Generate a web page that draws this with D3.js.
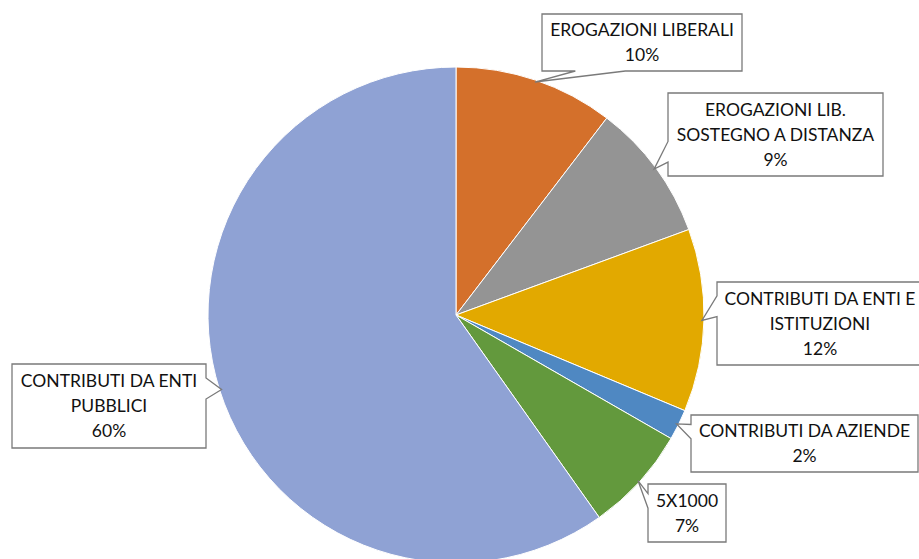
<!DOCTYPE html>
<html>
<head>
<meta charset="utf-8">
<script src="https://cdn.jsdelivr.net/npm/d3@7"></script>
<style>
  body { margin: 0; background: #fff; }
  svg { display: block; }
  text { font-family: Lato, "Noto Sans", sans-serif; fill: #111; }
</style>
</head>
<body>
<svg id="chart" width="919" height="559"></svg>
<script>
// Chart data (slices go clockwise from 12 o'clock)
var categories = [
  "EROGAZIONI LIBERALI",
  "EROGAZIONI LIB.\nSOSTEGNO A DISTANZA",
  "CONTRIBUTI DA ENTI E\nISTITUZIONI",
  "CONTRIBUTI DA AZIENDE",
  "5X1000",
  "CONTRIBUTI DA ENTI\nPUBBLICI"
];
var values = [10.4, 9.0, 11.9, 2.0, 6.9, 59.8];
var colors = ["#d4702b", "#949494", "#e2a900", "#4f88c2", "#63993d", "#8fa2d4"];

// Callout boxes: x, y, width, height
var boxes = [
  [542, 14, 200, 57],
  [668, 93, 215, 83],
  [717, 282, 206, 83],
  [691, 415, 227, 57],
  [648, 484, 78, 58],
  [12, 364, 194, 84]
];

var cx = 456, cy = 315, radius = 248;
var lineH = 25;

var svg = d3.select("#chart");
var g = svg.append("g").attr("transform", "translate(" + cx + "," + cy + ")");

var pie = d3.pie().sort(null).value(function(d) { return d; });
var arcs = pie(values);
var total = d3.sum(values);
var fmt = d3.format(".0%");

var arc = d3.arc().innerRadius(0).outerRadius(radius);
var tipArc = d3.arc().innerRadius(radius - 2).outerRadius(radius - 2);

var color = d3.scaleOrdinal().domain(d3.range(values.length)).range(colors);

g.selectAll("path.slice")
  .data(arcs)
  .enter().append("path")
  .attr("class", "slice")
  .attr("d", arc)
  .attr("fill", function(d, i) { return color(i); })
  .attr("stroke", "#fff")
  .attr("stroke-width", 1);

// Wedge callout outline, base placed like Office's wedgeRectCallout
function callout(b, tx, ty) {
  var x = b[0], y = b[1], w = b[2], h = b[3];
  var dx = tx - (x + w / 2), dy = ty - (y + h / 2);
  var pts = [];
  var horiz = Math.abs(dx) / w > Math.abs(dy) / h;
  var ya = dy < 0 ? [y + h * 2 / 12, y + h * 5 / 12] : [y + h * 7 / 12, y + h * 10 / 12];
  var xa = dx < 0 ? [x + w * 2 / 12, x + w * 5 / 12] : [x + w * 7 / 12, x + w * 10 / 12];
  pts.push([x, y]);
  if (!horiz && dy < 0) { pts.push([xa[0], y], [tx, ty], [xa[1], y]); }
  pts.push([x + w, y]);
  if (horiz && dx > 0) { pts.push([x + w, ya[0]], [tx, ty], [x + w, ya[1]]); }
  pts.push([x + w, y + h]);
  if (!horiz && dy > 0) { pts.push([xa[1], y + h], [tx, ty], [xa[0], y + h]); }
  pts.push([x, y + h]);
  if (horiz && dx < 0) { pts.push([x, ya[1]], [tx, ty], [x, ya[0]]); }
  return "M" + pts.map(function(p) { return p[0] + "," + p[1]; }).join("L") + "Z";
}

var labels = svg.append("g");

arcs.forEach(function(d, i) {
  var b = boxes[i];
  var tip = tipArc.centroid(d);
  var tx = tip[0] + cx, ty = tip[1] + cy;

  labels.append("path")
    .attr("d", callout(b, tx, ty))
    .attr("fill", "#fff")
    .attr("stroke", "#7a7a7a")
    .attr("stroke-width", 1.3);

  var lines = categories[i].split("\n").concat([fmt(values[i] / total)]);
  var y0 = b[1] + b[3] / 2 - (lines.length - 1) * lineH / 2;
  var t = labels.append("text")
    .attr("text-anchor", "middle")
    .attr("font-size", 17.5);
  lines.forEach(function(s, k) {
    t.append("tspan")
      .attr("x", b[0] + b[2] / 2)
      .attr("y", y0 + k * lineH)
      .attr("dy", "0.36em")
      .text(s);
  });
});
</script>
</body>
</html>
